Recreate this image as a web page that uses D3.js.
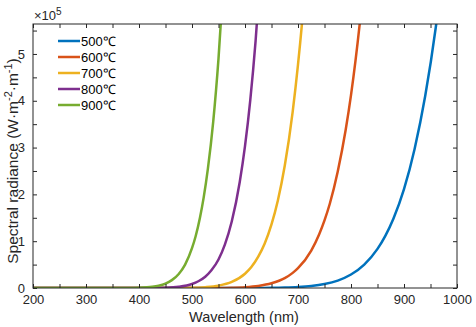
<!DOCTYPE html>
<html>
<head>
<meta charset="utf-8">
<script src="https://d3js.org/d3.v7.min.js"></script>
<style>
  body { margin: 0; background: #fff; }
  svg { font-family: "Liberation Sans", Arial, sans-serif; }
  .axis text { fill: #262626; font-size: 13px; }
  .line { fill: none; stroke-width: 2.5; }
</style>
</head>
<body>
<div id="chart"></div>
<script>
// wavelength (nm) and spectral radiance (x1e5 W·m^-2·m^-1)
var names = ["500\u2103", "600\u2103", "700\u2103", "800\u2103", "900\u2103"];
var colors = ["#0072BD", "#D95319", "#EDB120", "#7E2F8E", "#77AC30"];

var wl500 = [200, 600, 650, 675, 700, 725, 750, 775, 800, 825, 850, 865, 880, 900, 920, 940, 960, 980];
var val500 = [0, 0.001, 0.004, 0.009, 0.02, 0.042, 0.084, 0.159, 0.288, 0.50, 0.835, 1.12, 1.48, 2.11, 2.97, 4.10, 5.57, 7.47];

var wl600 = [200, 500, 550, 575, 600, 625, 650, 675, 690, 700, 725, 740, 750, 760, 775, 790, 800, 820, 840];
var val600 = [0, 0, 0.002, 0.007, 0.018, 0.044, 0.10, 0.21, 0.323, 0.424, 0.80, 1.15, 1.445, 1.80, 2.49, 3.38, 4.12, 6.03, 8.61];

var wl700 = [200, 450, 500, 525, 550, 575, 600, 612, 625, 637, 650, 662, 675, 690, 700, 710, 720];
var val700 = [0, 0, 0.005, 0.018, 0.05, 0.129, 0.305, 0.448, 0.67, 0.946, 1.36, 1.87, 2.61, 3.77, 4.77, 5.97, 7.43];

var wl800 = [200, 400, 425, 450, 475, 500, 512, 525, 537, 550, 562, 575, 590, 600, 610, 620, 630];
var val800 = [0, 0, 0.002, 0.007, 0.027, 0.086, 0.144, 0.24, 0.383, 0.61, 0.926, 1.42, 2.26, 3.03, 4.02, 5.28, 6.87];

var wl900 = [200, 350, 375, 400, 425, 437, 450, 462, 475, 487, 500, 507, 515, 522, 530, 540, 550, 560];
var val900 = [0, 0, 0.001, 0.006, 0.025, 0.048, 0.094, 0.168, 0.30, 0.50, 0.85, 1.11, 1.50, 1.93, 2.55, 3.55, 4.90, 6.66];

var xTicks = [200, 300, 400, 500, 600, 700, 800, 900, 1000];
var yTicks = [0, 1, 2, 3, 4, 5];

var series = [
  {name: names[0], x: wl500, y: val500},
  {name: names[1], x: wl600, y: val600},
  {name: names[2], x: wl700, y: val700},
  {name: names[3], x: wl800, y: val800},
  {name: names[4], x: wl900, y: val900}
];

var width = 476, height = 327;
var pLeft = 33, pRight = 457, pTop = 24, pBottom = 288;

var svg = d3.select("#chart").append("svg")
  .attr("width", width)
  .attr("height", height);

var xScale = d3.scaleLinear().domain([200, 1000]).range([pLeft, pRight]);
var yScale = d3.scaleLinear().domain([0, 5.64]).range([pBottom, pTop]);

svg.append("clipPath").attr("id", "clip")
  .append("rect")
  .attr("x", pLeft).attr("y", pTop)
  .attr("width", pRight - pLeft).attr("height", pBottom - pTop);

/* lines */
var line = d3.line()
  .x(d => xScale(d[0]))
  .y(d => yScale(d[1]))
  .curve(d3.curveMonotoneX);

svg.append("g").attr("clip-path", "url(#clip)")
  .selectAll("path")
  .data(series).enter()
  .append("path")
  .attr("class", "line")
  .attr("d", d => line(d.x.map((v, i) => [v, d.y[i]])))
  .style("stroke", (d, i) => colors[i]);

/* axes: ticks inward on all four sides */
var axisColor = "#262626";
var xMinor = d3.range(200, 1001, 50);
var yMinor = d3.range(0, 5.6, 0.5);

var xAxis = d3.axisBottom(xScale).tickValues(xMinor)
  .tickFormat(d => xTicks.indexOf(d) >= 0 ? d : "")
  .tickSizeInner(-4).tickSizeOuter(0).tickPadding(7);
svg.append("g").attr("class", "axis")
  .attr("transform", `translate(0,${pBottom})`).call(xAxis);

var yAxis = d3.axisLeft(yScale).tickValues(yMinor)
  .tickFormat(d => yTicks.indexOf(d) >= 0 ? d : "")
  .tickSizeInner(-4).tickSizeOuter(0).tickPadding(8);
svg.append("g").attr("class", "axis")
  .attr("transform", `translate(${pLeft},0)`).call(yAxis);

svg.append("g").attr("class", "axis")
  .attr("transform", `translate(0,${pTop})`)
  .call(d3.axisTop(xScale).tickValues(xMinor).tickFormat("").tickSizeInner(-4).tickSizeOuter(0));
svg.append("g").attr("class", "axis")
  .attr("transform", `translate(${pRight},0)`)
  .call(d3.axisRight(yScale).tickValues(yMinor).tickFormat("").tickSizeInner(-4).tickSizeOuter(0));

svg.selectAll(".axis line").attr("stroke", axisColor);
svg.selectAll(".axis path").attr("stroke", "none");

svg.append("rect")
  .attr("x", pLeft).attr("y", pTop)
  .attr("width", pRight - pLeft).attr("height", pBottom - pTop)
  .attr("fill", "none").attr("stroke", axisColor).attr("stroke-width", 1);

/* labels */
svg.append("text")
  .attr("x", (pLeft + pRight) / 2 - 1).attr("y", 322)
  .attr("text-anchor", "middle")
  .attr("font-size", 14.5).attr("fill", axisColor)
  .text("Wavelength (nm)");

var ylab = svg.append("text")
  .attr("transform", `translate(18,161) rotate(-90)`)
  .attr("text-anchor", "middle")
  .attr("font-size", 15.5).attr("fill", axisColor);
ylab.append("tspan").text("Spectral radiance (W\u00b7m");
ylab.append("tspan").attr("dy", -6).attr("font-size", 11).text("-2");
ylab.append("tspan").attr("dy", 6).text("\u00b7m");
ylab.append("tspan").attr("dy", -6).attr("font-size", 11).text("-1");
ylab.append("tspan").attr("dy", 6).text(")");

var expo = svg.append("text")
  .attr("x", pLeft + 1).attr("y", 20)
  .attr("font-size", 13).attr("fill", axisColor);
expo.append("tspan").text("\u00d710");
expo.append("tspan").attr("dy", -5).attr("font-size", 10).text("5");

/* legend */
var legend = svg.append("g").selectAll("g")
  .data(series).enter()
  .append("g")
  .attr("transform", (d, i) => `translate(58,${41 + i * 16})`);

legend.append("line")
  .attr("x1", 0).attr("x2", 22)
  .attr("stroke", (d, i) => colors[i]).attr("stroke-width", 2.5);

legend.append("text")
  .attr("x", 23).attr("y", 5)
  .attr("font-size", 13).attr("fill", "#000")
  .text(d => d.name);
</script>
</body>
</html>
